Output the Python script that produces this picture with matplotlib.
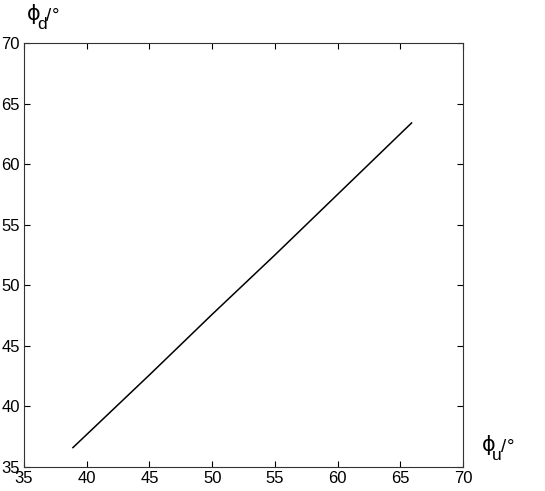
import matplotlib.pyplot as plt
import numpy as np

plt.rcParams['font.family'] = ['Liberation Sans', 'DejaVu Sans']

# values
phi_u = [38.9, 45.0, 50.0, 55.0, 60.0, 65.9]
phi_d = [36.6, 42.6, 47.6, 52.5, 57.5, 63.4]
ticks = [35, 40, 45, 50, 55, 60, 65, 70]

W, H = 545, 491

fig = plt.figure(figsize=(W / 100, H / 100), dpi=100)
ax = fig.add_axes([24 / W, 24 / H, 439 / W, 424 / H])
ax.plot(phi_u, phi_d, color='black', lw=1.1)

ax.set_xlim(35, 70)
ax.set_ylim(35, 70)
ax.set_xticks(ticks)
ax.set_yticks(ticks)
ax.tick_params(direction='in', top=True, right=True, length=4, width=0.8,
               labelsize=12, pad=3)
for s in ax.spines.values():
    s.set_linewidth(0.8)
    s.set_color('#333333')


def axis_label(x, y, sub):
    # pixel positions from the top-left corner, MATLAB-style sub-scripted label
    fig.text(x / W, 1 - y / H, '\u03d5', fontsize=15, family='DejaVu Sans',
             ha='left', va='baseline')
    fig.text((x + 10) / W, 1 - (y + 9) / H, sub, fontsize=12.5, ha='left', va='baseline')
    fig.text((x + 19) / W, 1 - (y + 1) / H, '/', fontsize=13.5, ha='left', va='baseline')
    fig.text((x + 25) / W, 1 - (y + 1) / H, '\u00b0', fontsize=13.5, ha='left', va='baseline')


axis_label(27, 20, 'd')
axis_label(482, 451, 'u')

fig.savefig('out.png', dpi=100)
